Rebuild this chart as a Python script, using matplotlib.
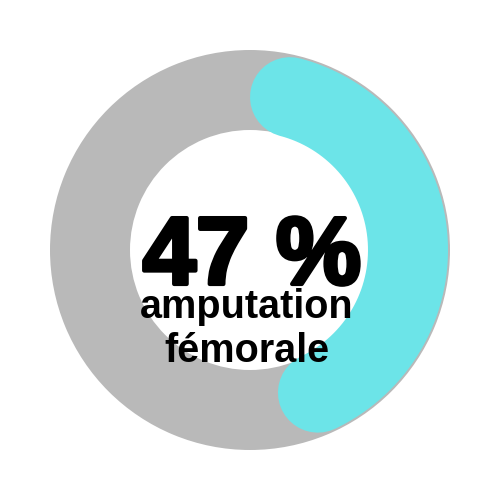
import numpy as np
import matplotlib
matplotlib.use('Agg')
import matplotlib.pyplot as plt
from matplotlib.patches import Wedge
import matplotlib.patheffects as pe

# Donnees
pourcentage = 47
titre_valeur = "47 %"
libelle = ["amputation", "fémorale"]

couleur_fond = "#b9b9b9"
couleur_arc = "#6ce4e8"

# Geometrie (pixels)
cx, cy = 250, 250
r_ext, r_int = 200, 120
r_arc = 158
largeur_arc = 80

fig = plt.figure(figsize=(5, 5), dpi=100)
ax = fig.add_axes([0, 0, 1, 1])
ax.set_xlim(0, 500)
ax.set_ylim(500, 0)
ax.set_aspect('equal')
ax.axis('off')

# anneau gris
ax.add_patch(Wedge((cx, cy), r_ext, 0, 360, width=r_ext - r_int,
                   facecolor=couleur_fond, edgecolor='none'))

# arc cyan avec bouts arrondis (les bouts font partie des 47 %)
total = pourcentage / 100 * 360
cap = np.degrees(np.arcsin((largeur_arc / 2) / r_arc))
angles = np.radians(np.linspace(cap, total - cap, 200))
xs = cx + r_arc * np.sin(angles)
ys = cy - r_arc * np.cos(angles)
ax.plot(xs, ys, color=couleur_arc, linewidth=largeur_arc * 72 / 100,
        solid_capstyle='round')

# texte central
ax.text(252, 284, titre_valeur, ha='center', va='baseline', fontsize=69,
        fontweight='bold', family='Liberation Sans', color='black',
        path_effects=[pe.withStroke(linewidth=3, foreground='black')])
ax.text(247, 318, libelle[0], ha='center', va='baseline', fontsize=28.5,
        fontweight='bold', family='Liberation Sans', color='black')
ax.text(247, 362, libelle[1], ha='center', va='baseline', fontsize=28.5,
        fontweight='bold', family='Liberation Sans', color='black')

fig.savefig('out.png', dpi=100, facecolor='white')
